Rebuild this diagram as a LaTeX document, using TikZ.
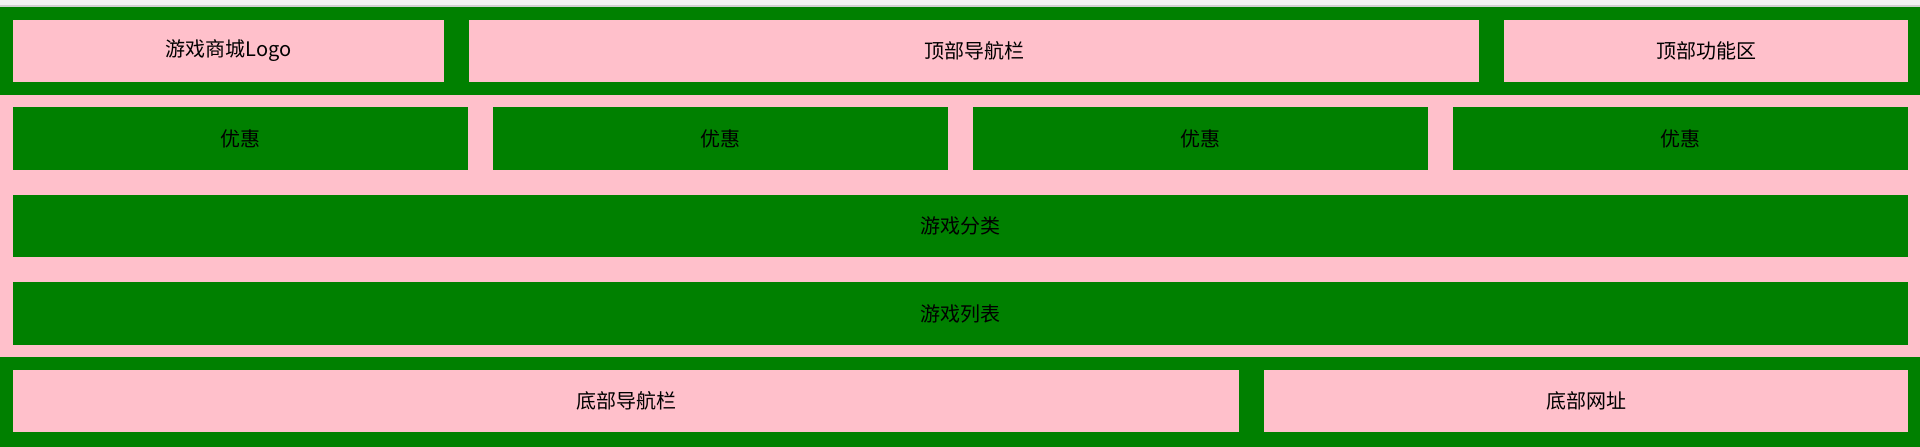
\documentclass[tikz,border=0pt]{standalone}
\usepackage{fontspec}
\setmainfont{Noto Sans CJK SC}
\definecolor{pk}{HTML}{FFC0CB}
\definecolor{gr}{HTML}{008000}
\definecolor{topbg}{HTML}{F3F3F3}
\definecolor{topline}{HTML}{D2D2D2}
\tikzset{
  blk/.style={inner sep=0pt, outer sep=0pt, anchor=north west, text=black,
    font=\fontsize{20pt}{24pt}\selectfont},
  pinkbox/.style={blk, fill=pk},
  greenbox/.style={blk, fill=gr},
}
\begin{document}
\begin{tikzpicture}[x=1pt,y=-1pt]
\useasboundingbox (0,0) rectangle (1920,447);
\fill[topbg] (0,0) rectangle (1920,5);
\fill[topline] (0,5) rectangle (1920,7);
% header
\node[greenbox, minimum width=1920pt, minimum height=88pt] (header) at (0,7) {};
\node[pinkbox, minimum width=431pt, minimum height=62pt] (logo) at (13,20) {游戏商城Logo};
\node[pinkbox, minimum width=1010pt, minimum height=62pt] (nav) at (469,20) {顶部导航栏};
\node[pinkbox, minimum width=404pt, minimum height=62pt] (func) at (1504,20) {顶部功能区};
% middle
\node[pinkbox, minimum width=1920pt, minimum height=262pt] (middle) at (0,95) {};
\node[greenbox, minimum width=455pt, minimum height=63pt] (offer1) at (13,107) {优惠};
\node[greenbox, minimum width=455pt, minimum height=63pt] (offer2) at (493,107) {优惠};
\node[greenbox, minimum width=455pt, minimum height=63pt] (offer3) at (973,107) {优惠};
\node[greenbox, minimum width=455pt, minimum height=63pt] (offer4) at (1453,107) {优惠};
\node[greenbox, minimum width=1895pt, minimum height=62pt] (cat) at (13,195) {游戏分类};
\node[greenbox, minimum width=1895pt, minimum height=63pt] (list) at (13,282) {游戏列表};
% footer
\node[greenbox, minimum width=1920pt, minimum height=90pt] (footer) at (0,357) {};
\node[pinkbox, minimum width=1226pt, minimum height=62pt] (bnav) at (13,370) {底部导航栏};
\node[pinkbox, minimum width=644pt, minimum height=62pt] (url) at (1264,370) {底部网址};
\end{tikzpicture}
\end{document}
